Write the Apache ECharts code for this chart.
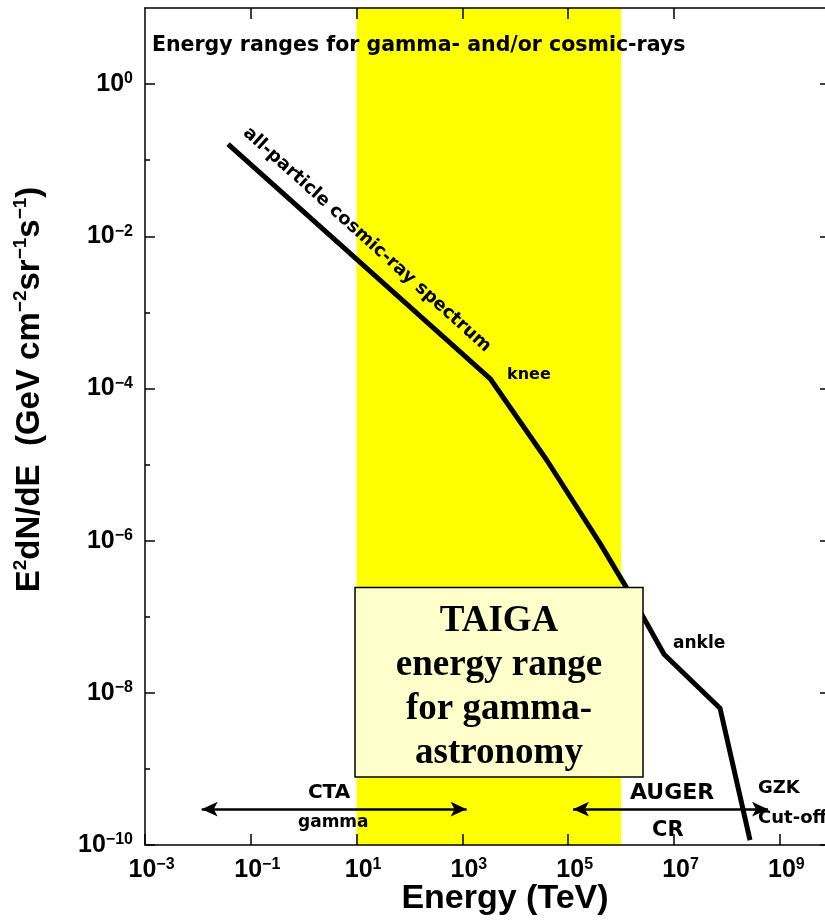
<!DOCTYPE html>
<html>
<head>
<meta charset="utf-8">
<script src="https://cdn.jsdelivr.net/npm/echarts@6.0.0/dist/echarts.min.js"></script>
<style>
html,body{margin:0;padding:0;background:#fff;}
#chart{width:825px;height:921px;}
</style>
</head>
<body>
<div id="chart"></div>
<script>
// ---------------- data ----------------
// all-particle cosmic-ray spectrum, E (TeV) vs E^2 dN/dE (GeV cm^-2 sr^-1 s^-1)
const energyTeV = [0.0371, 3330, 39700, 399000, 1.19e6, 2.83e6, 6.47e6, 7.41e7, 2.73e8];
const fluxE2   = [0.163, 1.35e-4, 1.13e-5, 9.2e-7, 2.58e-7, 8.98e-8, 3.21e-8, 6.28e-9, 1.16e-10];

// axis extents and tick values
const xMin = 1e-3;
const xMax = 7.14e9;
const yMin = 1e-10;
const yMax = 10;
const xTickValues = [1e-3, 1e-1, 1e1, 1e3, 1e5, 1e7, 1e9];
const xTopTickValues = [1e-1, 1e1, 1e3, 1e5, 1e7];
const yMajorTickValues = [1e-10, 1e-8, 1e-6, 1e-4, 1e-2, 1];
const yMinorTickValues = [1e-9, 1e-7, 1e-5, 1e-3, 1e-1];

// energy ranges
const taigaBand = [10, 1e6];              // yellow band (TeV)
const taigaBoxX = [9.33, 2.59e6];         // TAIGA text box, energy extent
const taigaBoxY = [2.43e-7, 7.8e-10];     // TAIGA text box, flux extent
const ctaRange = [0.0118, 1200];          // CTA gamma arrow
const augerRange = [1.23e5, 5.98e8];      // AUGER CR arrow
const rangeArrowLevel = 2.96e-10;         // flux level of both arrows

// texts
const chartTitle = 'Energy ranges for gamma- and/or cosmic-rays';
const xAxisTitle = 'Energy (TeV)';
const boxText = 'TAIGA\nenergy range\nfor gamma-\nastronomy';
const annotationTexts = ['all-particle cosmic-ray spectrum', 'knee', 'ankle', 'CTA', 'gamma', 'AUGER', 'CR', 'GZK', 'Cut-off'];
const annotationE = [15.7, 6970, 9.57e6, 1.2, 0.78, 1.47e6, 3.84e6, 3.87e8, 3.87e8];
const annotationF = [8.97e-3, 1.52e-4, 4.48e-8, 4.81e-10, 2.0e-10, 4.74e-10, 1.53e-10, 5.6e-10, 2.26e-10];
const annotationFontSize = [18, 16, 17, 20, 17, 22, 21, 18, 18];

// ---------------- styling ----------------
const annFont = 'DejaVu Sans';
const axisFont = 'Liberation Sans';
const tickFont = '"Liberation Sans Narrow", "Liberation Sans", Arial, sans-serif';
const black = '#000';

function powLabel(v) {
  const e = Math.round(Math.log10(v));
  return '{b|10}{e|' + (e < 0 ? '\u2212' + (-e) : String(e)) + '}';
}
const tickRich = {
  b: {fontFamily: tickFont, fontWeight: 'bold', fontSize: 25, lineHeight: 26, color: black},
  e: {fontFamily: axisFont, fontWeight: 'bold', fontSize: 16, lineHeight: 10, verticalAlign: 'top', color: black}
};

const lineStyleAxis = {color: black, width: 1.5};

const annData = annotationTexts.map(function (t, i) {
  const centered = i === 0;
  return {
    value: [annotationE[i], annotationF[i]],
    label: {
      show: true,
      formatter: t,
      position: centered ? 'inside' : 'right',
      distance: 0,
      rotate: centered ? -42 : 0,
      fontFamily: annFont,
      fontWeight: 'bold',
      fontSize: annotationFontSize[i],
      color: black,
      opacity: 1
    }
  };
});

const chart = echarts.init(document.getElementById('chart'), null, {renderer: 'canvas'});
chart.setOption({
  animation: false,
  backgroundColor: '#fff',
  title: {
    text: chartTitle,
    left: 152,
    top: 35,
    padding: 0,
    textStyle: {fontFamily: annFont, fontWeight: 'bold', fontSize: 20.5, color: black}
  },
  grid: {left: 145, top: 8, right: 0, height: 839, containLabel: false},
  xAxis: [
    {
      type: 'log', logBase: 10, min: xMin, max: xMax, position: 'bottom', z: 3,
      axisLine: {show: true, onZero: false, lineStyle: lineStyleAxis},
      axisTick: {show: true, inside: true, length: 11, lineStyle: lineStyleAxis, customValues: xTickValues},
      axisLabel: {show: true, customValues: xTickValues, formatter: powLabel, margin: 12, padding: [0, 0, 0, 13], rich: tickRich},
      splitLine: {show: false},
      minorTick: {show: false},
      name: xAxisTitle, nameLocation: 'middle', nameGap: 37, nameMoveOverlap: false,
      nameTextStyle: {fontFamily: axisFont, fontWeight: 'bold', fontSize: 34, color: black, padding: [0, 0, 0, 40]}
    },
    {
      type: 'log', logBase: 10, min: xMin, max: xMax, position: 'top', z: 3,
      axisLine: {show: true, onZero: false, lineStyle: lineStyleAxis},
      axisTick: {show: true, inside: true, length: 11, lineStyle: lineStyleAxis, customValues: xTopTickValues},
      axisLabel: {show: false},
      splitLine: {show: false}
    }
  ],
  yAxis: [
    {
      type: 'log', logBase: 10, min: yMin, max: yMax, position: 'left', z: 3,
      axisLine: {show: true, onZero: false, lineStyle: lineStyleAxis},
      axisTick: {show: true, inside: true, length: 10, lineStyle: lineStyleAxis, customValues: yMajorTickValues},
      axisLabel: {show: true, customValues: yMajorTickValues, formatter: powLabel, margin: 12, rich: tickRich},
      splitLine: {show: false},
      name: '{t|E}{s|2}{t|dN/dE  (GeV cm}{s|\u22122}{t|sr}{s|\u22121}{t|s}{s|\u22121}{t|)}',
      nameLocation: 'middle', nameRotate: 90, nameGap: 96, nameMoveOverlap: false,
      nameTextStyle: {
        padding: [0, 0, 0, 74],
        rich: {
          t: {fontFamily: axisFont, fontWeight: 'bold', fontSize: 33, lineHeight: 38, color: black},
          s: {fontFamily: axisFont, fontWeight: 'bold', fontSize: 19, lineHeight: 16, verticalAlign: 'top', color: black}
        }
      }
    },
    {
      type: 'log', logBase: 10, min: yMin, max: yMax, position: 'left', z: 3,
      axisLine: {show: false},
      axisTick: {show: true, inside: true, length: 5, lineStyle: lineStyleAxis, customValues: yMinorTickValues},
      axisLabel: {show: false},
      splitLine: {show: false}
    },
    {
      type: 'log', logBase: 10, min: yMin, max: yMax, position: 'right', z: 3,
      axisLine: {show: false},
      axisTick: {show: true, inside: true, length: 5, lineStyle: lineStyleAxis, customValues: yMajorTickValues},
      axisLabel: {show: false},
      splitLine: {show: false}
    }
  ],
  series: [
    {
      name: 'TAIGA band', type: 'line', data: [], z: 1,
      markArea: {
        silent: true, z: 1,
        itemStyle: {color: '#FFFF00'},
        data: [[{xAxis: taigaBand[0]}, {xAxis: taigaBand[1]}]]
      }
    },
    {
      name: 'all-particle spectrum', type: 'line', z: 2,
      data: energyTeV.map(function (e, i) { return [e, fluxE2[i]]; }),
      showSymbol: false, symbol: 'none', silent: true,
      lineStyle: {color: black, width: 5, join: 'round', cap: 'butt'}
    },
    {
      name: 'ranges', type: 'line', data: [], z: 4,
      markLine: {
        silent: true, z: 4,
        symbol: ['arrow', 'arrow'], symbolSize: [11, 16],
        label: {show: false},
        lineStyle: {color: black, width: 2.5, type: 'solid'},
        data: [
          [{coord: [ctaRange[0], rangeArrowLevel]}, {coord: [ctaRange[1], rangeArrowLevel]}],
          [{coord: [augerRange[0], rangeArrowLevel]}, {coord: [augerRange[1], rangeArrowLevel]}]
        ]
      }
    },
    {
      name: 'TAIGA box', type: 'line', data: [], z: 5,
      markArea: {
        silent: true, z: 5,
        itemStyle: {color: '#FFFFCC', borderColor: black, borderWidth: 1.5},
        label: {
          show: true, position: 'inside', formatter: boxText,
          fontFamily: '"Liberation Serif", "Times New Roman", serif', fontWeight: 'bold',
          fontSize: 37, lineHeight: 44, color: black, align: 'center',
          offset: [0, 5]
        },
        data: [[{coord: [taigaBoxX[0], taigaBoxY[0]]}, {coord: [taigaBoxX[1], taigaBoxY[1]]}]]
      }
    },
    {
      name: 'annotations', type: 'scatter', z: 6, silent: true,
      symbolSize: 0, itemStyle: {color: black, opacity: 1},
      data: annData
    }
  ]
});
</script>
</body>
</html>
